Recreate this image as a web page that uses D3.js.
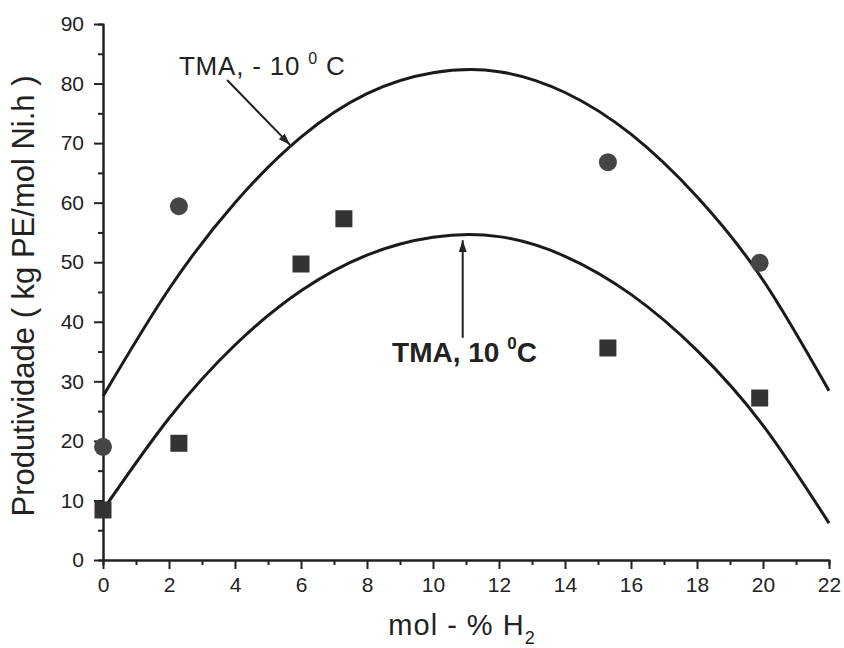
<!DOCTYPE html>
<html>
<head>
<meta charset="utf-8">
<script src="https://cdn.jsdelivr.net/npm/d3@7"></script>
<style>
  body { margin: 0; background: #fff; }
  text { font-family: "Liberation Sans", Arial, sans-serif; fill: #222; }
</style>
</head>
<body>
<div id="chart"></div>
<script>
// data
var xTicks = [0, 2, 4, 6, 8, 10, 12, 14, 16, 18, 20, 22];
var yTicks = [0, 10, 20, 30, 40, 50, 60, 70, 80, 90];

// TMA, -10 C (circles)
var circleX = [0, 2.3, 15.3, 19.9];
var circleY = [19.0, 59.4, 66.8, 49.9];
// TMA, 10 C (squares)
var squareX = [0, 2.3, 6.0, 7.3, 15.3, 19.9];
var squareY = [8.4, 19.6, 49.7, 57.3, 35.6, 27.2];

// fitted curves, read every 2 mol-%
var curveX = [0, 2, 4, 6, 8, 10, 12, 14, 16, 18, 20, 22];
var upperY = [27.5, 45.5, 60.0, 71.0, 78.3, 81.8, 82.0, 78.5, 71.5, 61.0, 47.0, 28.4];
var lowerY = [8.4, 23.8, 36.1, 45.2, 51.2, 54.2, 54.3, 51.0, 44.6, 35.2, 22.6, 6.2];

var w = 844;
var h = 648;
var margin = {top: 24, right: 15, bottom: 88, left: 103};

var svg = d3.select("#chart")
    .append("svg")
    .attr("width", w)
    .attr("height", h);

var x = d3.scaleLinear().domain([0, 22]).range([margin.left, w - margin.right]);
var y = d3.scaleLinear().domain([0, 90]).range([h - margin.bottom, margin.top]);

// axes (major + minor ticks, outward)
var xMinor = d3.axisBottom(x).tickValues(d3.range(1, 22, 2)).tickSize(5).tickFormat("");
var yMinor = d3.axisLeft(y).tickValues(d3.range(5, 90, 10)).tickSize(5).tickFormat("");

svg.append("g").attr("transform", "translate(0," + y(0) + ")").call(xMinor);
svg.append("g").attr("transform", "translate(" + x(0) + ",0)").call(yMinor);

var xAxis = svg.append("g")
    .attr("transform", "translate(0," + y(0) + ")")
    .call(d3.axisBottom(x).tickValues(xTicks).tickSize(9).tickPadding(8).tickSizeOuter(0));
var yAxis = svg.append("g")
    .attr("transform", "translate(" + x(0) + ",0)")
    .call(d3.axisLeft(y).tickValues(yTicks).tickSize(9).tickPadding(10).tickSizeOuter(0));

svg.selectAll(".domain, .tick line")
    .attr("stroke", "#222")
    .attr("stroke-width", 2);
xAxis.selectAll("text").style("font-size", "21px").attr("fill", "#222");
yAxis.selectAll("text").style("font-size", "21px").attr("fill", "#222");

// axis titles
svg.append("text")
    .attr("x", 462)
    .attr("y", 635)
    .attr("text-anchor", "middle")
    .style("font-size", "29px")
    .style("letter-spacing", "1px")
    .text("mol - % H")
    .append("tspan")
    .attr("dy", 9)
    .style("font-size", "18px")
    .text("2");

svg.append("text")
    .attr("transform", "translate(34,296) rotate(-90)")
    .attr("text-anchor", "middle")
    .style("font-size", "31px")
    .text("Produtividade ( kg PE/mol Ni.h )");

// fitted curves
var line = d3.line()
    .x(function(d) { return x(d[0]); })
    .y(function(d) { return y(d[1]); })
    .curve(d3.curveNatural);

[upperY, lowerY].forEach(function(ys) {
    svg.append("path")
        .datum(curveX.map(function(v, i) { return [v, ys[i]]; }))
        .attr("d", line)
        .attr("fill", "none")
        .attr("stroke", "#1a1a1a")
        .attr("stroke-width", 3);
});

// markers
svg.selectAll(".circ").data(circleX)
    .enter().append("circle")
    .attr("class", "circ")
    .attr("cx", function(d) { return x(d); })
    .attr("cy", function(d, i) { return y(circleY[i]); })
    .attr("r", 9)
    .attr("fill", "#454545");

var s = 17;
svg.selectAll(".sq").data(squareX)
    .enter().append("rect")
    .attr("class", "sq")
    .attr("x", function(d) { return x(d) - s / 2; })
    .attr("y", function(d, i) { return y(squareY[i]) - s / 2; })
    .attr("width", s)
    .attr("height", s)
    .attr("fill", "#333");

// arrows
svg.append("defs").append("marker")
    .attr("id", "arr")
    .attr("viewBox", "0 0 12 8")
    .attr("refX", 12)
    .attr("refY", 4)
    .attr("markerWidth", 12)
    .attr("markerHeight", 8)
    .attr("markerUnits", "userSpaceOnUse")
    .attr("orient", "auto")
    .append("path")
    .attr("d", "M0,0 L12,4 L0,8 Z")
    .attr("fill", "#222");

svg.append("line")
    .attr("x1", x(3.76)).attr("y1", y(80.6))
    .attr("x2", x(5.67)).attr("y2", y(69.7))
    .attr("stroke", "#222").attr("stroke-width", 2)
    .attr("marker-end", "url(#arr)");

svg.append("line")
    .attr("x1", x(10.9)).attr("y1", y(37.3))
    .attr("x2", x(10.9)).attr("y2", y(53.7))
    .attr("stroke", "#222").attr("stroke-width", 2)
    .attr("marker-end", "url(#arr)");

// labels
var t1 = svg.append("text")
    .attr("x", x(2.3))
    .attr("y", y(81.4))
    .style("font-size", "26px")
    .style("letter-spacing", "0.8px");
t1.append("tspan").text("TMA, - 10 ");
t1.append("tspan").attr("dy", -11).style("font-size", "16px").text("0");
t1.append("tspan").attr("dy", 11).text(" C");

var t2 = svg.append("text")
    .attr("x", x(8.76))
    .attr("y", y(33.2))
    .style("font-size", "28px")
    .style("font-weight", "bold");
t2.append("tspan").text("TMA, 10 ");
t2.append("tspan").attr("dy", -13).style("font-size", "17px").text("0");
t2.append("tspan").attr("dy", 13).text("C");
</script>
</body>
</html>
